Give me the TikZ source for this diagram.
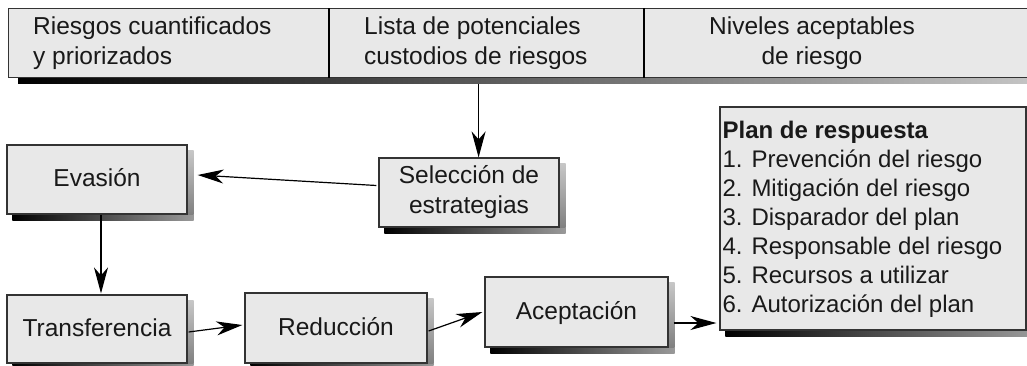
\documentclass[tikz,border=0pt]{standalone}
\usepackage{fontspec}
\setmainfont{Liberation Sans}
\usetikzlibrary{calc,arrows.meta,backgrounds}
\newcommand\mkshadow[1]{%
  \shade[left color=black, right color=black!40] ($(#1.south west)+(6,0)$) rectangle ($(#1.south east)+(6,6)$);
  \shade[top color=black!22, bottom color=black!50] ($(#1.north east)+(0,6)$) rectangle ($(#1.south east)+(6,0)$);
}
\begin{document}
\begin{tikzpicture}[x=1pt,y=-1pt,
  box/.style={draw=black!80, line width=1.2pt, fill=black!9, inner sep=0pt,
    font=\fontsize{24.5}{30}\selectfont, text=black!90},
  onel/.style={text height=16pt, text depth=2pt},
  cell/.style={draw=black!80, line width=1.2pt, fill=black!9, inner sep=0pt, minimum height=69pt},
  lbl/.style={inner sep=0pt, font=\fontsize{24.5}{30}\selectfont, text=black!90},
  arr/.style={line width=1.2pt, draw=black, -{Stealth[length=26pt,width=14pt,inset=8pt]}},
]
\useasboundingbox (0,0) rectangle (1027,365);
% top bar
\node[cell, minimum width=320pt, anchor=north west] (c1) at (8,8) {};
\node[cell, minimum width=315pt, anchor=north west] (c2) at (328,8) {};
\node[cell, minimum width=401pt, anchor=north west] (c3) at (643,8) {};
\draw[line width=2.2pt] (c1.north east) -- (c1.south east);
\draw[line width=2.2pt] (c2.north east) -- (c2.south east);
\node[lbl, align=left, anchor=west] (t1) at ($(c1.west)+(25,0)$) {Riesgos cuantificados\\y priorizados};
\node[lbl, align=left, anchor=west] (t2) at ($(c2.west)+(36,0)$) {Lista de potenciales\\custodios de riesgos};
\node[lbl, align=center] (t3) at ($(c3.west)+(169,0)$) {Niveles aceptables\\de riesgo};
% boxes
\node[box, onel, minimum width=180pt, minimum height=69pt] (eva) at (97,179.5) {Evasión};
\node[box, minimum width=180pt, minimum height=69pt, align=center] (sel) at (469,192.5) {Selección de\\estrategias};
\node[box, onel, minimum width=180pt, minimum height=68pt] (tra) at (97,329) {Transferencia};
\node[box, onel, minimum width=182pt, minimum height=70pt] (red) at (336,328) {Reducción};
\node[box, onel, minimum width=183pt, minimum height=70pt] (acc) at (576.5,312) {Aceptación};
\node[box, minimum width=306pt, minimum height=223pt] (plan) at (873,218.5) {};
\node[lbl, align=left, anchor=north west, font=\fontsize{24}{29}\selectfont] (plantxt)
  at ($(plan.north west)+(3,15)$)
  {\textbf{Plan de respuesta}\\1. Prevención del riesgo\\2. Mitigación del riesgo\\3. Disparador del plan\\4. Responsable del riesgo\\5. Recursos a utilizar\\6. Autorización del plan};
% connectors
\draw[arr] ($(c2.south)+(-7.5,6)$) -- (sel.north -| {$(c2.south)+(-7.5,0)$});
\draw[arr] ($(sel.west)+(-2,-7)$) -- ($(eva.east)+(10,-4.5)$);
\draw[arr] ($(eva.south)+(4,0)$) -- ($(tra.north)+(4,-1)$);
\draw[arr] ($(tra.east)+(1,3)$) -- ($(red.west)+(-2,-3)$);
\draw[arr] ($(red.east)+(1,3)$) -- ($(acc.west)+(-2,0)$);
\draw[arr] ($(acc.east)+(5,11)$) -- ($(plan.west |- acc.east)+(-3,11)$);
% shadows
\begin{scope}[on background layer]
  \fill[white] (0,0) rectangle (1027,365);
  \shade[left color=black, right color=black!22] ($(c1.south west)+(10,0)$) rectangle ($(c3.south east)+(0,5)$);
  \mkshadow{eva}
  \mkshadow{sel}
  \mkshadow{tra}
  \mkshadow{red}
  \mkshadow{acc}
  \mkshadow{plan}
\end{scope}
\end{tikzpicture}
\end{document}
